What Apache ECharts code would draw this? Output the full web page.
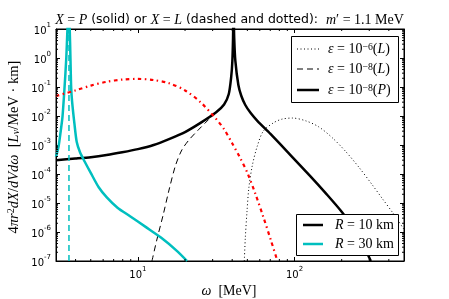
<!DOCTYPE html>
<html><head><meta charset="utf-8">
<script src="https://cdn.jsdelivr.net/npm/echarts@6/dist/echarts.min.js"></script>
<style>html,body{margin:0;padding:0;background:#fff}#c{width:449px;height:299px}</style>
</head><body><div id="c"></div>
<script>
// ---- data (omega [MeV], 4 pi r^2 dX/dV dw) ----
const xRange = [3, 500];
const yRange = [1e-7, 10];

// R = 10 km, eps = 1e-8, P (solid black)
const r10P = [[3.0,3.0e-4],[3.98,3.4e-4],[5.01,3.8e-4],[6.31,4.5e-4],[7.94,5.6e-4],[10.0,7.2e-4],[12.6,1.0e-3],[15.8,1.6e-3],[20.0,2.8e-3],[25.1,5.8e-3],[31.6,0.0135],[35.5,0.025],[38.0,0.056],[39.4,0.22],[40.1,0.79],[40.5,5],[40.8,50],[41.2,4.9],[41.9,0.79],[43.8,0.117],[45.7,0.05],[48.5,0.024],[52.5,0.0126],[57.9,6.8e-3],[70.2,2.4e-3],[94.2,4.5e-4],[126,8.5e-5],[158,2.2e-5],[200,5.0e-6],[251,8.9e-7],[307,1e-7]];
// R = 10 km, eps = 1e-8, L (dashed black)
const r10L8 = [[12.3,1e-7],[13.2,5.3e-7],[14.5,3.9e-6],[15.8,2.8e-5],[17.4,2.0e-4],[19.1,6.8e-4],[21.2,1.5e-3],[24.3,3.3e-3],[28.1,7.3e-3],[31.6,0.0135]];
// R = 10 km, eps = 1e-6, L (dotted black)
const r10L6 = [[47.8,1e-7],[48.5,6.2e-7],[49.7,4.9e-6],[51.1,3.3e-5],[53.8,2.0e-4],[57.9,9.3e-4],[63.2,3.0e-3],[73.3,5.8e-3],[83.2,7.8e-3],[97.0,8.5e-3],[118,6.8e-3],[143,4.2e-3],[175,1.74e-3],[212,6.0e-4],[257,1.74e-4],[316,4.0e-5],[366,1.35e-5],[425,4.5e-6],[507,1.1e-6]];
// R = 30 km, P (solid cyan)
const r30P = [[3.0,3.9e-4],[3.12,9.3e-4],[3.22,3.2e-3],[3.30,9.3e-3],[3.40,0.093],[3.49,1.0],[3.55,10],[3.61,60],[3.67,10],[3.71,1.0],[3.75,0.093],[3.80,0.032],[3.94,5.0e-3],[4.07,1.26e-3],[4.27,5.6e-4],[4.57,2.7e-4],[5.01,1.07e-4],[5.62,3.5e-5],[6.31,1.6e-5],[7.41,6.9e-6],[8.91,3.5e-6],[11.2,1.5e-6],[14.1,6.3e-7],[17.8,2.2e-7],[20.6,1e-7]];
// R = 30 km, L (dashed cyan)
const r30L = [[3.63,1e-7],[3.63,10]];
// red dash-dot curve
const redCurve = [[3.0,0.049],[3.98,0.076],[5.01,0.112],[6.31,0.151],[7.94,0.18],[10.0,0.19],[12.6,0.174],[15.8,0.135],[20.0,0.076],[25.1,0.030],[31.6,7.9e-3],[35.5,3.5e-3],[39.8,1.2e-3],[44.7,3.8e-4],[50.1,1.07e-4],[56.2,2.1e-5],[63.1,3.4e-6],[70.8,5.0e-7],[77.8,1e-7]];

const CYAN = '#00bfbf';
const serif = '"Liberation Serif","DejaVu Serif",serif';
const sans = '"DejaVu Sans",sans-serif';

const mathRich = (fs) => ({
  mi: {fontFamily: serif, fontStyle: 'italic', fontSize: fs, color:'#000'},
  rm: {fontFamily: serif, fontSize: fs, color:'#000'},
  sans: {fontFamily: sans, fontSize: fs-1.5, color:'#000'},
  sup: {fontFamily: serif, fontSize: fs*0.7, verticalAlign: 'top', lineHeight: fs*0.7, color:'#000'},
  sub: {fontFamily: serif, fontStyle:'italic', fontSize: fs*0.7, verticalAlign: 'bottom', lineHeight: fs*0.7, color:'#000'}
});

// legend entries: [label, colour, width, dash]
const legendTop = [
  ['{mi|ε}{rm| = 10}{sup|−6}{rm|(}{mi|L}{rm|)}', '#000', 1, [1, 2.5]],
  ['{mi|ε}{rm| = 10}{sup|−8}{rm|(}{mi|L}{rm|)}', '#000', 1, [6, 4]],
  ['{mi|ε}{rm| = 10}{sup|−8}{rm|(}{mi|P}{rm|)}', '#000', 2.5, null]
];
const legendBottom = [
  ['{mi|R}{rm| = 10 km}', '#000', 2.5, null],
  ['{mi|R}{rm| = 30 km}', CYAN, 2.5, null]
];

function pow10Label(v) {
  const e = Math.round(Math.log10(v));
  if (Math.abs(Math.log10(v) - e) > 1e-6) return '';
  return '{b|10}{s|' + (e < 0 ? '-' + (-e) : e) + '}';
}
const tickRich = {
  b: {fontFamily: sans, fontSize: 10, color: '#000', lineHeight: 14, verticalAlign: 'bottom'},
  s: {fontFamily: sans, fontSize: 7, color: '#000', lineHeight: 12, verticalAlign: 'top'}
};

const chart = echarts.init(document.getElementById('c'), null, {renderer: 'canvas'});
const gridBox = {left: 56, right: 45, top: 29, bottom: 38};

function logAxis(pos, range, showLabel) {
  return {
    type: 'log', logBase: 10, min: range[0], max: range[1], position: pos,
    axisLine: {show: true, lineStyle: {color: '#000', width: 1}},
    axisTick: {show: true, inside: true, length: 4, lineStyle: {color: '#000', width: 1}},
    axisLabel: {show: showLabel, formatter: pow10Label, rich: tickRich, margin: 5},
    splitLine: {show: false}, minorTick: {show: false}
  };
}

const lineSeries = (name, data, color, width, type, z, smooth) => ({
  type: 'line', name, data, showSymbol: false, symbol: 'none', smooth: smooth,
  z: z, silent: true,
  lineStyle: {color, width, type, cap: 'butt', join: 'round'}, itemStyle: {color}
});

chart.setOption({
  animation: false,
  grid: Object.assign({show: true, borderColor: '#000', borderWidth: 1, backgroundColor: '#fff'}, gridBox),
  xAxis: [logAxis('bottom', xRange, true), logAxis('top', xRange, false)],
  yAxis: [logAxis('left', yRange, true), logAxis('right', yRange, false)],
  series: [
    lineSeries('e6L', r10L6, '#000', 1, [1, 2.5], 3, 0.3),
    lineSeries('e8L', r10L8, '#000', 1, [6, 4], 3, 0.3),
    lineSeries('R10', r10P, '#000', 2.5, 'solid', 4, 0.25),
    lineSeries('R30', r30P, CYAN, 2.5, 'solid', 4, 0.25),
    lineSeries('R30L', r30L, CYAN, 1.5, [6, 4], 5, false),
    lineSeries('red', redCurve, '#ff0000', 2.2, [3.5, 3.5, 1.5, 3.5], 6, 0.3)
  ]
});

const g = [];
const gL = gridBox.left, gR = 449 - gridBox.right, gT = gridBox.top, gB = 299 - gridBox.bottom;
const minorLen = 2;
// minor ticks (log subdivisions) on all four sides, placed through the axis scales
for (let d = 1; d <= 100; d *= 10) {
  for (let k = 2; k <= 9; k++) {
    const v = d * k;
    if (v <= xRange[0] || v >= xRange[1]) continue;
    const px = chart.convertToPixel({xAxisIndex: 0}, v);
    g.push({type: 'line', shape: {x1: px, y1: gB, x2: px, y2: gB - minorLen}, style: {stroke: '#000', lineWidth: 1}, z: 20, silent: true});
    g.push({type: 'line', shape: {x1: px, y1: gT, x2: px, y2: gT + minorLen}, style: {stroke: '#000', lineWidth: 1}, z: 20, silent: true});
  }
}
for (let e = -7; e < 1; e++) {
  for (let k = 2; k <= 9; k++) {
    const v = k * Math.pow(10, e);
    const py = chart.convertToPixel({yAxisIndex: 0}, v);
    g.push({type: 'line', shape: {x1: gL, y1: py, x2: gL + minorLen, y2: py}, style: {stroke: '#000', lineWidth: 1}, z: 20, silent: true});
    g.push({type: 'line', shape: {x1: gR, y1: py, x2: gR - minorLen, y2: py}, style: {stroke: '#000', lineWidth: 1}, z: 20, silent: true});
  }
}
// legends
function addLegend(box, entries, iconX0, iconX1, textX, ys) {
  g.push({type: 'rect', shape: {x: box[0] + 0.5, y: box[1] + 0.5, width: box[2] - box[0], height: box[3] - box[1]},
    style: {fill: '#fff', stroke: '#000', lineWidth: 1}, z: 40, silent: true});
  entries.forEach((en, i) => {
    const st = {stroke: en[1], lineWidth: en[2]};
    if (en[3]) st.lineDash = en[3];
    g.push({type: 'line', shape: {x1: iconX0, y1: ys[i], x2: iconX1, y2: ys[i]}, style: st, z: 41, silent: true});
    g.push({type: 'text', x: textX, y: ys[i], z: 41, silent: true,
      style: {text: en[0], rich: mathRich(14), align: 'left', verticalAlign: 'middle'}});
  });
}
addLegend([291, 36, 398, 102], legendTop, 297, 319, 328, [49, 69, 90]);
addLegend([296, 214, 398, 255], legendBottom, 303, 323, 335, [225, 244]);
// title
g.push({type: 'text', x: 229.5, y: 20, z: 30, silent: true,
  style: {text: '{mi|X}{rm| = }{mi|P}{sans| (solid) or }{mi|X}{rm| = }{mi|L}{sans| (dashed and dotted):  }{mi|m}{rm|′ = 1.1 MeV}',
    rich: mathRich(14), align: 'center', verticalAlign: 'middle'}});
// y axis title
g.push({type: 'text', x: 14, y: 147, rotation: Math.PI / 2, z: 30, silent: true,
  style: {text: '{rm|4}{mi|πr}{sup|2}{mi|dX}{rm|/}{mi|dVdω}{rm|  [}{mi|L}{sub|ν}{rm|/MeV · km]}',
    rich: mathRich(14.5), align: 'center', verticalAlign: 'middle'}});
// x axis title
g.push({type: 'text', x: 229, y: 291, z: 30, silent: true,
  style: {text: '{mi|ω}{rm|  [MeV]}', rich: mathRich(14), align: 'center', verticalAlign: 'middle'}});
chart.setOption({graphic: g});
</script></body></html>
